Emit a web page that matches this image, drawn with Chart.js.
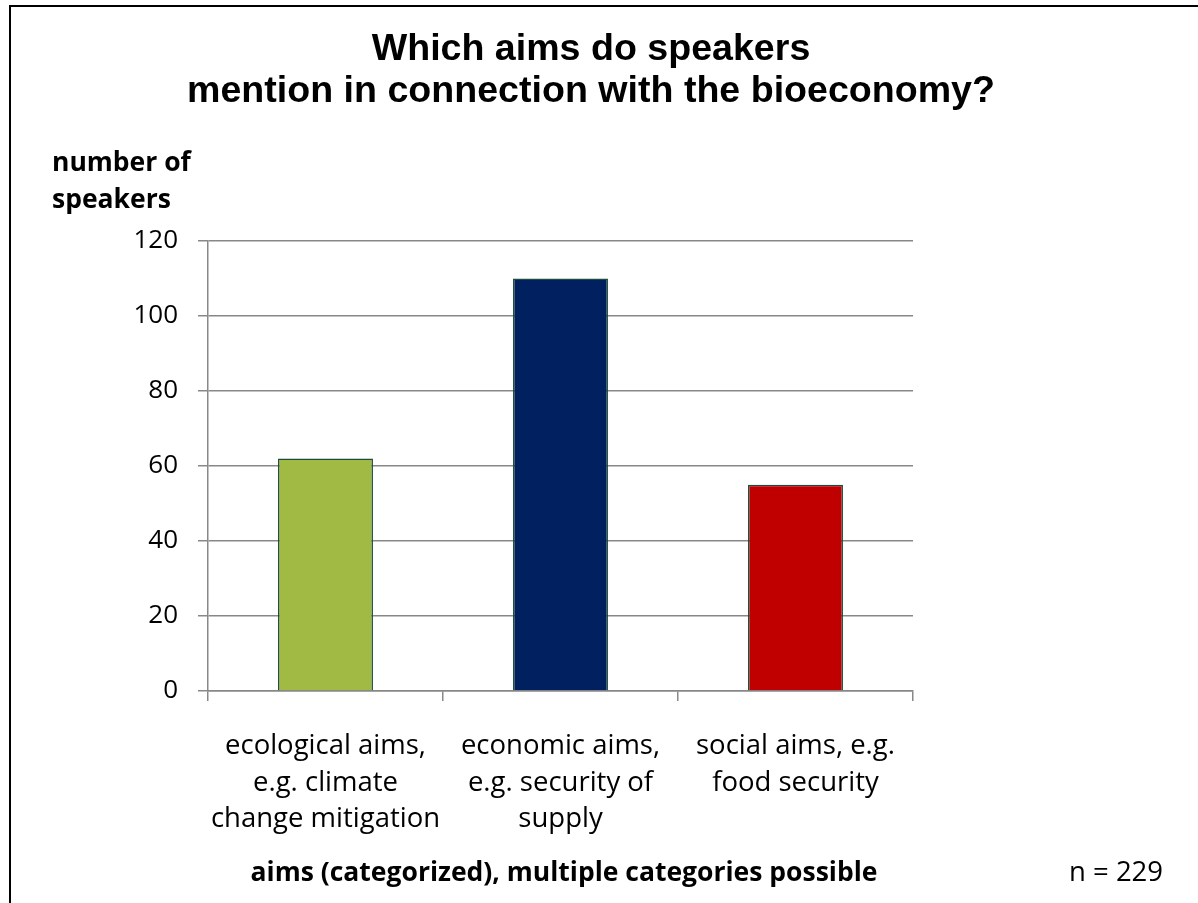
<!DOCTYPE html>
<html>
<head>
<meta charset="utf-8">
<script src="https://cdn.jsdelivr.net/npm/chart.js@4"></script>
<style>
  html, body { margin: 0; padding: 0; background: #fff; }
  #wrap { position: relative; width: 1198px; height: 903px; }
</style>
</head>
<body>
<div id="wrap"><canvas id="c" width="1198" height="903"></canvas></div>
<script>
const titleLines = ["Which aims do speakers", "mention in connection with the bioeconomy?"];
const yAxisTitle = ["number of", "speakers"];
const xAxisTitle = "aims (categorized), multiple categories possible";
const noteText = "n = 229";
const categories = [
  ["ecological aims,", "e.g. climate", "change mitigation"],
  ["economic aims,", "e.g. security of", "supply"],
  ["social aims, e.g.", "food security"]
];
const speakers = [62, 110, 55];
const barColors = ["#A1BA43", "#002060", "#C00000"];
const yMin = 0, yMax = 120, yStep = 20;

const bodyFont = "'Open Sans', Lato, sans-serif";

const decor = {
  id: 'decor',
  afterDraw(chart) {
    const ctx = chart.ctx;
    ctx.save();
    // outer frame (top and left edges visible)
    ctx.strokeStyle = '#000';
    ctx.lineWidth = 2;
    ctx.beginPath();
    ctx.moveTo(10, 903);
    ctx.lineTo(10, 6);
    ctx.lineTo(1198, 6);
    ctx.stroke();
    // title
    ctx.fillStyle = '#000';
    ctx.textAlign = 'center';
    ctx.textBaseline = 'alphabetic';
    ctx.font = "bold 37.6px 'Liberation Sans', Arial, sans-serif";
    ctx.fillText(titleLines[0], 591, 60);
    ctx.fillText(titleLines[1], 591, 102);
    // y axis title
    ctx.textBaseline = 'middle';
    ctx.textAlign = 'left';
    ctx.font = "bold 26.5px " + bodyFont;
    ctx.fillText(yAxisTitle[0], 52, 163);
    ctx.fillText(yAxisTitle[1], 52, 200);
    // x axis title
    ctx.textAlign = 'center';
    ctx.fillText(xAxisTitle, 564, 873);
    // note
    ctx.font = "27.5px " + bodyFont;
    ctx.textAlign = 'left';
    ctx.fillText(noteText, 1069, 873);
    ctx.restore();
  }
};

new Chart(document.getElementById('c'), {
  type: 'bar',
  data: {
    labels: categories,
    datasets: [{
      data: speakers,
      backgroundColor: barColors,
      borderColor: '#1E4B3A',
      borderWidth: 1.5,
      barPercentage: 0.404,
      categoryPercentage: 1
    }]
  },
  options: {
    responsive: false,
    animation: false,
    events: [],
    layout: { padding: { left: 0, right: 285, top: 241, bottom: 0 } },
    plugins: {
      legend: { display: false },
      title: { display: false },
      tooltip: { enabled: false }
    },
    scales: {
      x: {
        offset: true,
        grid: {
          offset: true,
          drawOnChartArea: false,
          drawTicks: true,
          tickLength: 10,
          color: '#888888',
          lineWidth: 1.5
        },
        border: { color: '#888888', width: 1.5 },
        ticks: {
          color: '#000',
          font: { family: bodyFont, size: 27.5, lineHeight: 1.33 },
          padding: 27,
          maxRotation: 0,
          autoSkip: false
        },
        afterFit(scale) { scale.height = 903 - 691; }
      },
      y: {
        min: yMin,
        max: yMax,
        ticks: {
          stepSize: yStep,
          color: '#000',
          font: { family: bodyFont, size: 26 },
          padding: 20
        },
        grid: {
          color: '#888888',
          lineWidth: 1.5,
          tickLength: 10,
          drawTicks: true
        },
        border: { color: '#888888', width: 1.5 },
        afterFit(scale) { scale.width = 208; }
      }
    }
  },
  plugins: [decor]
});
</script>
</body>
</html>
